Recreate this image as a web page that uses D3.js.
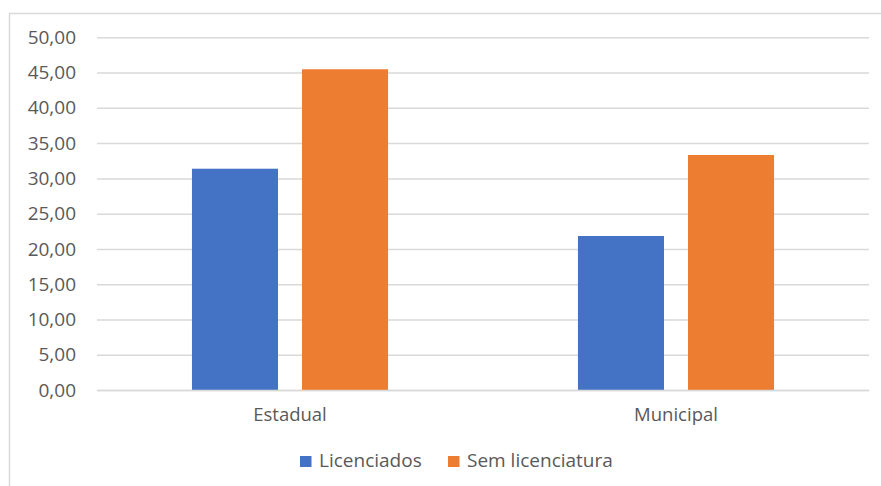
<!DOCTYPE html>
<html>
<head>
<meta charset="utf-8">
<script src="https://cdn.jsdelivr.net/npm/d3@7"></script>
<style>
  html, body { margin: 0; padding: 0; background: #fff; }
  svg { display: block; }
  text { font-family: "Open Sans", "Noto Sans", sans-serif; fill: #595959; }
</style>
</head>
<body>
<svg id="chart" width="881" height="486"></svg>
<script>
// Categories and series values
const categories = ["Estadual", "Municipal"];
const seriesNames = ["Licenciados", "Sem licenciatura"];
const licenciados = [31.37, 21.83];
const semLicenciatura = [45.47, 33.32];
const yTicks = [0, 5, 10, 15, 20, 25, 30, 35, 40, 45, 50];
const seriesColors = ["#4472C4", "#ED7D31"];

const seriesValues = [licenciados, semLicenciatura];

const svg = d3.select("#chart");
const W = 881, H = 486;
const plot = { left: 97, right: 869, top: 37.3, bottom: 390 };

// Outer chart frame
svg.append("rect")
  .attr("x", 9.5).attr("y", 13.5)
  .attr("width", W + 20).attr("height", H + 20)
  .attr("fill", "#fff")
  .attr("stroke", "#d9d9d9")
  .attr("stroke-width", 1.5);

const y = d3.scaleLinear().domain([0, 50]).range([plot.bottom, plot.top]);

const x0 = d3.scaleBand()
  .domain(categories)
  .range([plot.left, plot.right])
  .paddingInner(0.492)
  .paddingOuter(0.246);

const x1 = d3.scaleBand()
  .domain(seriesNames)
  .range([0, x0.bandwidth()])
  .paddingInner(0.218)
  .paddingOuter(0);

const fmt = v => d3.format(".2f")(v).replace(".", ",");

// Horizontal gridlines and value labels
const yAxis = d3.axisLeft(y)
  .tickValues(yTicks)
  .tickSize(-(plot.right - plot.left))
  .tickPadding(21)
  .tickFormat(fmt);

const gy = svg.append("g")
  .attr("transform", `translate(${plot.left},0)`)
  .call(yAxis);
gy.select(".domain").remove();
gy.selectAll(".tick line")
  .attr("stroke", "#d9d9d9")
  .attr("stroke-width", 1.5);
gy.selectAll(".tick text")
  .style("font-size", "19px")
  .attr("fill", "#595959");

// Bars
const groups = svg.append("g").selectAll("g")
  .data(categories)
  .join("g")
  .attr("transform", d => `translate(${x0(d)},0)`);

groups.selectAll("rect")
  .data((d, i) => seriesNames.map((s, j) => ({ s, v: seriesValues[j][i], c: seriesColors[j] })))
  .join("rect")
  .attr("x", d => x1(d.s))
  .attr("width", x1.bandwidth())
  .attr("y", d => y(d.v))
  .attr("height", d => y(0) - y(d.v))
  .attr("fill", d => d.c);

// Category axis
const xAxis = d3.axisBottom(x0).tickSize(0).tickPadding(18);
const gx = svg.append("g")
  .attr("transform", `translate(0,${plot.bottom})`)
  .call(xAxis);
gx.select(".domain")
  .attr("stroke", "#d9d9d9")
  .attr("stroke-width", 1.5);
gx.selectAll(".tick text")
  .style("font-size", "18.5px")
  .attr("fill", "#595959");

// Legend
const legendItems = [
  { name: seriesNames[0], color: seriesColors[0], x: 300 },
  { name: seriesNames[1], color: seriesColors[1], x: 448 }
];
const lg = svg.append("g").selectAll("g")
  .data(legendItems)
  .join("g")
  .attr("transform", d => `translate(${d.x},456)`);
lg.append("rect")
  .attr("width", 11.5).attr("height", 11)
  .attr("fill", d => d.color);
lg.append("text")
  .attr("x", 19)
  .attr("y", 11)
  .style("font-size", "19px")
  .text(d => d.name);
</script>
</body>
</html>
